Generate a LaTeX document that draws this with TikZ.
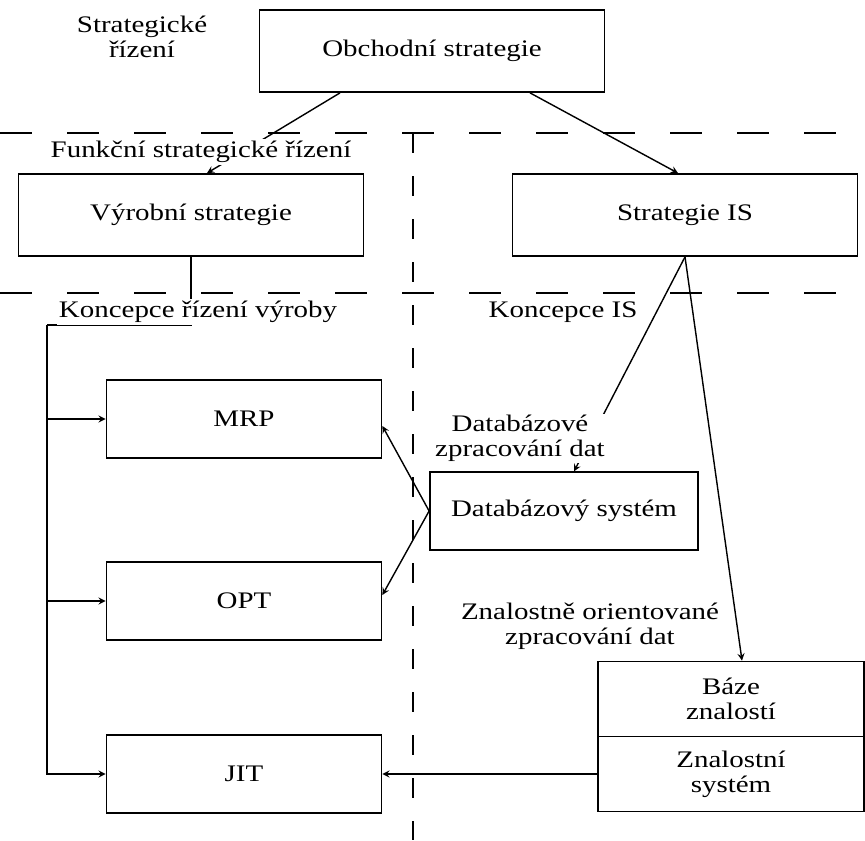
\documentclass[tikz,border=0pt]{standalone}
\usepackage{fontspec}
\setmainfont{Liberation Serif}[FakeStretch=1.22]
\usetikzlibrary{arrows}
\tikzstyle{box} = [rectangle,
minimum height=1.55cm,
minimum width=5.5cm,
text centered,
align=center,
draw=black,
line width=1pt]
\tikzstyle{bigbox} = [box,
minimum height=1.64cm,
minimum width=6.9cm]
\tikzstyle{kbox} = [box,
minimum height=1.5cm,
minimum width=5.32cm]
\tikzstyle{note} = [align=center, fill=white, inner sep=1pt]
\tikzstyle{divider} = [line width=1pt, dash pattern=on 0.64cm off 0.7cm]
\tikzstyle{arrow} = [line width=0.8pt,->,>=stealth]

\begin{document}
\begin{tikzpicture}[node distance=2cm, font=\fontsize{13.5}{14}\selectfont]
    \useasboundingbox (0,0) rectangle (17.3,-16.8);
    \draw [divider] (0,-2.66) -- (17.3,-2.66);
    \draw [divider] (0,-5.86) -- (17.3,-5.86);
    \draw [divider, dash pattern=on 0.4cm off 0.46cm] (8.26,-2.66) -- (8.26,-16.8);

    \node (obch) [bigbox] at (8.64,-1.02) {Obchodní strategie};
    \node (strat) [note, left of=obch, xshift=-3.8cm, yshift=0.28cm] {Strategické\\řízení};
    \node (vyr) [bigbox, below of=obch, xshift=-4.82cm, yshift=-1.28cm] {Výrobní strategie};
    \node (sis) [bigbox, right of=vyr, xshift=7.88cm] {Strategie IS};
    \node (mrp) [box, below of=vyr, xshift=1.06cm, yshift=-2.08cm] {MRP};
    \node (opt) [box, below of=mrp, yshift=-1.64cm] {OPT};
    \node (jit) [box, below of=opt, yshift=-1.46cm] {JIT};
    \node (dbs) [box, minimum width=5.36cm, right of=mrp, xshift=4.4cm, yshift=-1.84cm] {Databázový systém};
    \node (ks) [kbox, right of=jit, xshift=7.74cm] {Znalostní\\systém};
    \node (kb) [kbox, above of=ks, yshift=-0.5cm] {Báze\\znalostí};
    \coordinate (bus) at (0.94,-6.5);

    \draw [arrow] ([xshift=-1.84cm]obch.south) -- ([xshift=0.32cm]vyr.north);
    \draw [arrow] ([xshift=1.96cm]obch.south) -- ([xshift=-0.14cm]sis.north);
    \draw [line width=0.8pt] (vyr.south) |- (bus);
    \draw [arrow] (bus) |- (jit);
    \draw [arrow] (bus |- mrp) -- (mrp);
    \draw [arrow] (bus |- opt) -- (opt);
    \draw [arrow] (dbs.west) -- ([yshift=-0.14cm]mrp.east);
    \draw [arrow] (dbs.west) -- ([yshift=0.12cm]opt.east);
    \draw [arrow] (sis.south) -- ([xshift=0.2cm]dbs.north);
    \draw [arrow] (sis.south) -- ([xshift=0.22cm]kb.north);
    \draw [arrow] (ks.west) -- (jit.east);

    \node (fsr) [note, above of=vyr, xshift=0.2cm, yshift=-0.74cm] {Funkční strategické řízení};
    \node (kvyr) [note, below of=vyr, xshift=0.14cm, yshift=0.06cm] {Koncepce řízení výroby};
    \node (kis) [note, below of=sis, xshift=-2.44cm, yshift=0.06cm] {Koncepce IS};
    \node (dzd) [note, above of=dbs, xshift=-0.88cm, yshift=-0.55cm] {Databázové\\zpracování dat};
    \node (zzd) [note, below of=dbs, xshift=0.52cm, yshift=-0.3cm] {Znalostně orientované\\zpracování dat};
\end{tikzpicture}
\end{document}
